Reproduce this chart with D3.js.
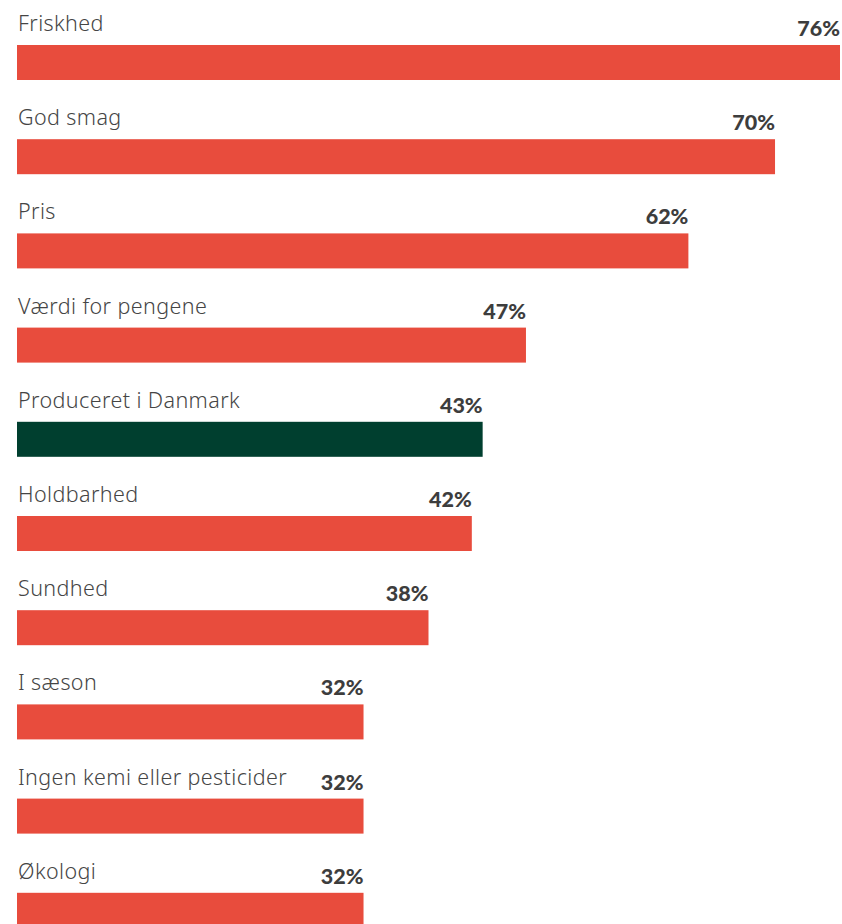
<!DOCTYPE html>
<html>
<head>
<meta charset="utf-8">
<script src="https://cdn.jsdelivr.net/npm/d3@7"></script>
<style>
  html, body { margin: 0; padding: 0; background: #ffffff; }
  svg { display: block; }
</style>
</head>
<body>
<svg id="chart" width="842" height="924"></svg>
<script>
// Categories and shares (percent), top to bottom
const categories = [
  "Friskhed",
  "God smag",
  "Pris",
  "Værdi for pengene",
  "Produceret i Danmark",
  "Holdbarhed",
  "Sundhed",
  "I sæson",
  "Ingen kemi eller pesticider",
  "Økologi"
];
const values = [76, 70, 62, 47, 43, 42, 38, 32, 32, 32];
const highlighted = ["Produceret i Danmark"];

const data = categories.map((c, i) => ({ category: c, value: values[i] }));

const svg = d3.select("#chart");

const barH = 35;
const rowStep = 94.2;
const firstBarY = 45;

const x = d3.scaleLinear().domain([0, 76]).range([17, 840]);
const y = d3.scaleBand()
  .domain(categories)
  .range([firstBarY, firstBarY + (categories.length - 1) * rowStep + barH])
  .paddingInner(1 - barH / rowStep)
  .paddingOuter(0)
  .align(0);

const red = "#e84c3d";
const green = "#003f2f";
const textColor = "#3d3d3d";

const rows = svg.selectAll("g.row")
  .data(data)
  .join("g")
  .attr("class", "row");

rows.append("rect")
  .attr("x", x(0))
  .attr("y", d => y(d.category))
  .attr("width", d => x(d.value) - x(0))
  .attr("height", y.bandwidth())
  .attr("fill", d => highlighted.includes(d.category) ? green : red);

rows.append("text")
  .attr("x", 18)
  .attr("y", d => y(d.category) - 14)
  .attr("font-family", "'Noto Sans', 'Open Sans', sans-serif")
  .attr("font-weight", 300)
  .attr("font-size", 21.5)
  .attr("letter-spacing", 0.4)
  .attr("fill", "#454545")
  .text(d => d.category);

rows.append("text")
  .attr("x", d => x(d.value))
  .attr("y", d => y(d.category) - 9)
  .attr("text-anchor", "end")
  .attr("font-family", "Lato, 'Open Sans', sans-serif")
  .attr("font-weight", 900)
  .attr("font-size", 21.5)
  .attr("fill", textColor)
  .text(d => d.value + "%");
</script>
</body>
</html>
